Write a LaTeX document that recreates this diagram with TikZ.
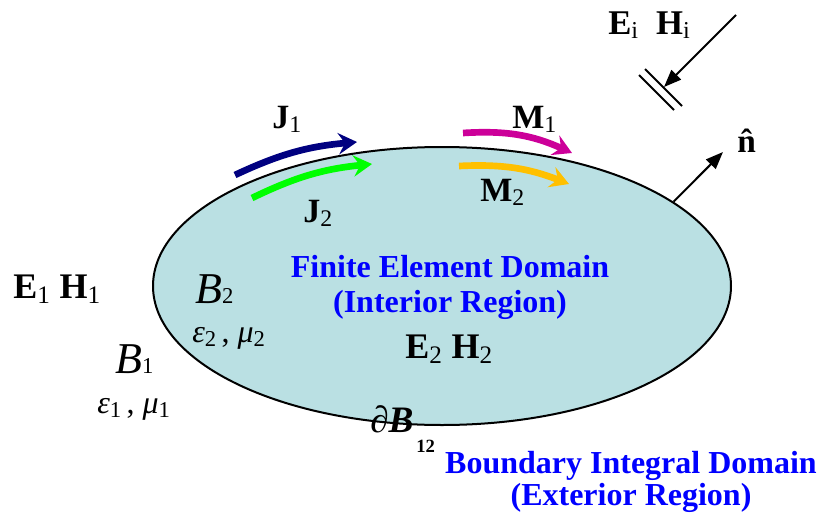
\documentclass[tikz,border=0pt]{standalone}
\usepackage{fontspec}
\setmainfont{Liberation Serif}
\usepackage{tikz}
\usetikzlibrary{shapes.geometric, arrows.meta, positioning, calc}
\definecolor{regionfill}{RGB}{186, 224, 227}
\definecolor{femblue}{RGB}{0, 0, 255}
\definecolor{jnavy}{RGB}{0, 0, 128}
\definecolor{jgreen}{RGB}{0, 255, 0}
\definecolor{mmagenta}{RGB}{204, 0, 153}
\definecolor{myellow}{RGB}{255, 192, 0}
\newcommand{\lsub}[1]{\textsubscript{\mdseries #1}}

\begin{document}
\begin{tikzpicture}[
    x=0.75pt, y=-0.75pt,
    femregion/.style={ellipse, draw, line width=1.5pt, fill=regionfill, minimum width=433.5pt, minimum height=208.5pt, inner sep=0pt},
    currentarrow/.style={line width=5pt, -{Stealth[length=14pt, width=16pt, inset=5pt]}},
    ray/.style={line width=1.5pt, -{Triangle[length=13pt, width=10pt]}},
    fieldlbl/.style={font=\fontsize{27}{30}\selectfont\bfseries, inner sep=0pt, anchor=base west},
    currentlbl/.style={font=\fontsize{25.5}{28}\selectfont\bfseries, inner sep=0pt, anchor=base west},
    bluelbl/.style={font=\fontsize{24}{27}\selectfont\bfseries, text=femblue, inner sep=0pt, anchor=base},
    medium/.style={font=\fontsize{24}{27}\selectfont, inner sep=0pt, anchor=base west}
]
\useasboundingbox (0,0) rectangle (822,525);

% the finite element region
\node[femregion] (fem) at (442,286) {};

% incident field
\coordinate (isrc) at (736,15);
\coordinate (itip) at (664,87);
\draw[ray] (isrc) -- (itip);
\draw[line width=1.5pt] ($(itip)+(-19,-18)$) -- ($(itip)+(18,19)$);
\draw[line width=1.5pt] ($(itip)+(-25,-12)$) -- ($(itip)+(10,23)$);
\node[fieldlbl, font=\fontsize{26}{28}\selectfont\bfseries] (eihi) at (608,34) {E\lsub{i}\ \ H\lsub{i}};

% normal
\coordinate (ntip) at (723,152);
\draw[ray] (fem.20) -- (ntip);
\node[fieldlbl, font=\fontsize{25}{27}\selectfont\bfseries] (nhat) at (737,152) {\^{n}};

% surface currents
\coordinate (j1a) at (235,175);
\coordinate (j1b) at (357,142);
\coordinate (j2a) at (252,198);
\coordinate (j2b) at (372,164);
\coordinate (m1a) at (463,133);
\coordinate (m1b) at (572,153);
\coordinate (m2a) at (459,166);
\coordinate (m2b) at (569,184);
\draw[currentarrow, jnavy] (j1a) to[bend left=10] (j1b);
\draw[currentarrow, jgreen] (j2a) to[bend left=10] (j2b);
\draw[currentarrow, mmagenta] (m1a) to[bend left=14] (m1b);
\draw[currentarrow, myellow] (m2a) to[bend left=12] (m2b);
\node[currentlbl] (jone) at (272,128) {J\lsub{1}};
\node[currentlbl] (jtwo) at (303,222) {J\lsub{2}};
\node[currentlbl] (mone) at (512,128) {M\lsub{1}};
\node[currentlbl] (mtwo) at (480,201) {M\lsub{2}};

% domain texts
\node[bluelbl] (fetitle) at (450,277) {Finite Element Domain};
\node[bluelbl] (fesub) at (450,312) {(Interior Region)};
\node[fieldlbl] (ehtwo) at (405,358) {E\lsub{2} H\lsub{2}};
\node[fieldlbl] (ehone) at (13,298) {E\lsub{1} H\lsub{1}};
\node[bluelbl] (bititle) at (631,473) {Boundary Integral Domain};
\node[bluelbl] (bisub) at (631,505) {(Exterior Region)};

% materials
\node[medium, font=\fontsize{33}{36}\selectfont] (btwo) at (195,303) {\textit{B}{\fontsize{17}{18}\selectfont 2}};
\node[medium] (mattwo) at (192,342) {\textit{ε}\raisebox{-0.3ex}{\fontsize{17}{18}\selectfont 2}\,, \textit{μ}\raisebox{-0.3ex}{\fontsize{17}{18}\selectfont 2}};
\node[medium, font=\fontsize{33}{36}\selectfont] (bone) at (115,373) {\textit{B}{\fontsize{17}{18}\selectfont 1}};
\node[medium] (matone) at (97,413) {\textit{ε}\raisebox{-0.3ex}{\fontsize{17}{18}\selectfont 1}\,, \textit{μ}\raisebox{-0.3ex}{\fontsize{17}{18}\selectfont 1}};

% boundary
\node[medium, font=\fontsize{28}{30}\selectfont] (dbnd) at (370,432) {\textit{∂}\textbf{\textit{B}}};
\node[medium, font=\fontsize{14}{15}\selectfont\bfseries] (dbsub) at (416,452) {12};

\end{tikzpicture}
\end{document}
